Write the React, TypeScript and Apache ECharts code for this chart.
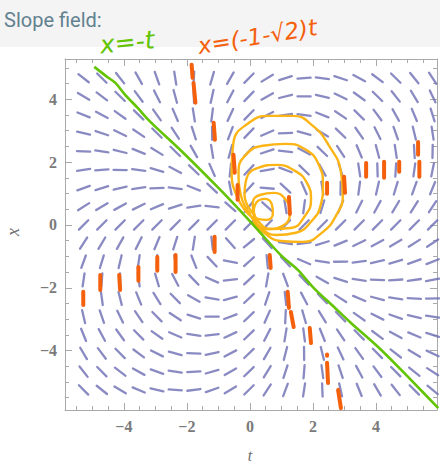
import { useEffect, useRef } from 'react';
import * as echarts from 'echarts';

// Slope field grid (sample points)
const T_GRID = [-5.28, -4.7, -4.12, -3.53, -2.95, -2.37, -1.78, -1.2, -0.62, -0.03, 0.55, 1.13, 1.72, 2.3, 2.88, 3.47, 4.05, 4.63, 5.22, 5.8];
const X_GRID = [4.67, 4.09, 3.5, 2.92, 2.34, 1.75, 1.17, 0.58, 0.0, -0.58, -1.17, -1.75, -2.34, -2.92, -3.5, -4.09, -4.67, -5.25];
// ODE: dx/dt = (x^2 - 2tx - t^2) / (x^2 + 2tx - t^2); coefficients of [x^2, t*x, t^2]
const ODE_NUM = [1, -2, -1];
const ODE_DEN = [1, 2, -1];

const T_RANGE = [-5.87, 5.94];
const X_RANGE = [-5.89, 5.28];
const T_MAJOR = [-4, -2, 0, 2, 4];
const T_MINOR = [-5.5, -5, -4.5, -3.5, -3, -2.5, -1.5, -1, -0.5, 0.5, 1, 1.5, 2.5, 3, 3.5, 4.5, 5, 5.5];
const X_MAJOR = [-4, -2, 0, 2, 4];
const X_MINOR = [-5.5, -5, -4.5, -3.5, -3, -2.5, -1.5, -1, -0.5, 0.5, 1, 1.5, 2.5, 3, 3.5, 4.5, 5];

// Hand-drawn green line x = -t
const GREEN_CURVE = [
  [-4.94, 5.03], [-4.53, 4.71], [-4.27, 4.52], [-3.96, 4.14], [-3.57, 3.73], [-3.16, 3.28],
  [-2.11, 2.29], [-1.03, 1.21], [-0.39, 0.54], [0.25, -0.16], [0.98, -0.96], [1.52, -1.43],
  [2.03, -2.01], [2.67, -2.61], [3.21, -3.12], [4.17, -3.98], [5.12, -4.94], [5.98, -5.83],
];

// Hand-drawn yellow spiral loops
const LOOP_1 = [
  [0.09, 0.22], [-0.36, 0.8], [-0.58, 1.75], [-0.52, 2.64], [-0.07, 3.22], [0.6, 3.47], [1.36, 3.47],
  [2.0, 3.15], [2.51, 2.52], [2.89, 1.69], [2.95, 0.92], [2.73, 0.29], [2.32, -0.22], [1.68, -0.54],
  [0.98, -0.51], [0.41, -0.22], [0.09, 0.1],
];
const LOOP_2 = [
  [0.03, 0.32], [-0.29, 0.96], [-0.36, 1.69], [-0.13, 2.23], [0.41, 2.52], [1.14, 2.58], [1.78, 2.39],
  [2.19, 1.91], [2.32, 1.27], [2.25, 0.64], [1.94, 0.1], [1.46, -0.25], [0.82, -0.32], [0.28, -0.03], [0.05, 0.25],
];
const LOOP_3 = [
  [0.09, 0.38], [-0.17, 0.96], [-0.1, 1.5], [0.28, 1.82], [0.85, 1.91], [1.43, 1.72], [1.81, 1.34],
  [1.94, 0.8], [1.75, 0.29], [1.3, -0.1], [0.66, -0.13], [0.22, 0.16], [0.1, 0.4],
];
const LOOP_4 = [
  [0.12, 0.32], [0.09, 0.7], [0.34, 0.96], [0.76, 1.02], [1.14, 0.8], [1.27, 0.38], [1.04, -0.03],
  [0.54, -0.13], [0.18, 0.1], [0.12, 0.34],
];
const LOOP_5 = [
  [0.12, 0.41], [0.22, 0.73], [0.47, 0.83], [0.69, 0.67], [0.73, 0.38], [0.54, 0.16], [0.25, 0.19], [0.13, 0.4],
];
const SPIRAL_LOOPS = [LOOP_1, LOOP_2, LOOP_3, LOOP_4, LOOP_5];

// Hand-drawn orange strokes where slopes are vertical: [t1, x1, t2, x2]
const ORANGE_MARKS = [
  [-1.85, 5.1, -1.82, 4.68], [-1.79, 4.52, -1.73, 3.89], [-1.15, 3.25, -1.11, 2.71], [-0.52, 2.23, -0.48, 1.66],
  [-0.39, 1.27, -0.39, 0.8], [1.24, 0.89, 1.27, 0.35], [2.45, 1.34, 2.45, 0.99], [2.99, 1.53, 3.02, 1.02],
  [3.69, 1.97, 3.69, 1.53], [4.26, 2.01, 4.26, 1.5], [4.74, 2.01, 4.74, 1.69], [5.34, 2.64, 5.34, 2.23],
  [5.38, 2.01, 5.38, 1.53], [-5.29, -2.13, -5.29, -2.55], [-4.75, -1.59, -4.75, -2.07], [-4.15, -1.59, -4.12, -2.07],
  [-3.54, -1.34, -3.54, -1.78], [-2.94, -1.02, -2.94, -1.46], [-2.36, -0.96, -2.36, -1.5], [-1.12, -0.38, -1.12, -0.86],
  [0.63, -0.96, 0.66, -1.37], [1.2, -2.13, 1.24, -2.64], [1.3, -2.77, 1.39, -3.25], [1.9, -3.28, 1.94, -3.76],
  [2.45, -4.12, 2.45, -4.16], [2.45, -4.39, 2.48, -5.03], [2.8, -5.25, 2.89, -5.83],
];

const TITLE = 'Slope field:';
const NOTE_GREEN = 'x=-t';
const NOTE_ORANGE = 'x=(-1-√2)t';
const T_NAME = 't';
const X_NAME = 'x';

const FRAME = '#a9a9a9';
const LABEL_COLOR = '#7a7a7a';
const fmt = (v: number) => (v < 0 ? '\u2212' + Math.abs(v) : String(v));

function xAxisCfg(pos: 'bottom' | 'top', ticks: number[], len: number, line: boolean, labels: boolean) {
  return {
    type: 'value', position: pos, min: T_RANGE[0], max: T_RANGE[1],
    axisLine: { show: line, onZero: false, lineStyle: { color: FRAME, width: 1 } },
    axisTick: { show: true, inside: true, length: len, customValues: ticks, lineStyle: { color: FRAME, width: 1 } },
    axisLabel: { show: labels, customValues: ticks, formatter: fmt, margin: 8, color: LABEL_COLOR, fontSize: 16, fontWeight: 'bold', fontFamily: 'Liberation Serif' },
    splitLine: { show: false },
  };
}
function yAxisCfg(pos: 'left' | 'right', ticks: number[], len: number, line: boolean, labels: boolean) {
  return {
    type: 'value', position: pos, min: X_RANGE[0], max: X_RANGE[1],
    axisLine: { show: line, onZero: false, lineStyle: { color: FRAME, width: 1 } },
    axisTick: { show: true, inside: true, length: len, customValues: ticks, lineStyle: { color: FRAME, width: 1 } },
    axisLabel: { show: labels, customValues: ticks, formatter: fmt, margin: 8, color: LABEL_COLOR, fontSize: 16, fontWeight: 'bold', fontFamily: 'Liberation Serif' },
    splitLine: { show: false },
  };
}

export default function App() {
  const ref = useRef<HTMLDivElement>(null);
  useEffect(() => {
    if (!ref.current) return;
    const chart = echarts.init(ref.current, null, { renderer: 'svg' });
    const gridPoints: number[][] = [];
    T_GRID.forEach((t) => X_GRID.forEach((x) => gridPoints.push([t, x])));

    const series: any[] = [
      {
        type: 'custom', name: 'slopes', data: gridPoints, xAxisIndex: 0, yAxisIndex: 0, clip: false, z: 2,
        encode: { x: 0, y: 1 },
        renderItem: (_p: any, api: any) => {
          const t = api.value(0) as number;
          const x = api.value(1) as number;
          const c = api.coord([t, x]);
          const s = api.size([1, 1]) as number[];
          const num = ODE_NUM[0] * x * x + ODE_NUM[1] * t * x + ODE_NUM[2] * t * t;
          const den = ODE_DEN[0] * x * x + ODE_DEN[1] * t * x + ODE_DEN[2] * t * t;
          let dx = den * s[0];
          let dy = -num * s[1];
          const L = Math.hypot(dx, dy) || 1;
          const h = 6.6;
          dx = (dx / L) * h;
          dy = (dy / L) * h;
          return {
            type: 'line',
            shape: { x1: c[0] - dx, y1: c[1] - dy, x2: c[0] + dx, y2: c[1] + dy },
            style: { stroke: '#6d6db4', lineWidth: 2.3, lineCap: 'round', opacity: 0.8 },
          };
        },
      },
      ...SPIRAL_LOOPS.map((loop, i) => ({
        type: 'line', name: 'loop' + (i + 1), data: loop, xAxisIndex: 0, yAxisIndex: 0, smooth: 0.5,
        showSymbol: false, symbol: 'none', z: 3, clip: false,
        lineStyle: { color: '#fcb514', width: 2.4 },
      })),
      {
        type: 'line', name: 'x=-t', data: GREEN_CURVE, xAxisIndex: 0, yAxisIndex: 0, smooth: 0.3,
        showSymbol: false, symbol: 'none', z: 4, clip: true,
        lineStyle: { color: '#62c402', width: 2.6 },
      },
      {
        type: 'custom', name: 'vertical', data: ORANGE_MARKS, xAxisIndex: 0, yAxisIndex: 0, clip: false, z: 5,
        encode: { x: [0, 2], y: [1, 3] },
        renderItem: (_p: any, api: any) => {
          const a = api.coord([api.value(0), api.value(1)]);
          const b = api.coord([api.value(2), api.value(3)]);
          return {
            type: 'line',
            shape: { x1: a[0], y1: a[1], x2: b[0], y2: b[1] },
            style: { stroke: '#f4600c', lineWidth: 4, lineCap: 'round' },
          };
        },
      },
    ];

    chart.setOption({
      animation: false,
      backgroundColor: '#ffffff',
      grid: { left: 65, right: 3, top: 59, bottom: 56, containLabel: false },
      xAxis: [
        xAxisCfg('bottom', T_MAJOR, 7, true, true),
        xAxisCfg('bottom', T_MINOR, 4, false, false),
        xAxisCfg('top', T_MAJOR, 7, true, false),
        xAxisCfg('top', T_MINOR, 4, false, false),
      ],
      yAxis: [
        yAxisCfg('left', X_MAJOR, 7, true, true),
        yAxisCfg('left', X_MINOR, 4, false, false),
        yAxisCfg('right', X_MAJOR, 7, true, false),
        yAxisCfg('right', X_MINOR, 4, false, false),
      ],
      series,
      graphic: [
        { type: 'rect', left: 0, top: 0, z: -10, shape: { width: 440, height: 47 }, style: { fill: '#f4f4f4' } },
        {
          type: 'text', x: 4, y: 20, z: 10,
          style: { text: TITLE, fontSize: 20, fontFamily: 'Roboto', fill: '#62818f', align: 'left', verticalAlign: 'middle' },
        },
        {
          type: 'text', x: 100, y: 45, rotation: 0.1, z: 10,
          style: { text: NOTE_GREEN, fontSize: 25, fontFamily: 'DejaVu Sans', fontStyle: 'italic', fill: '#62c402', align: 'left', verticalAlign: 'middle' },
        },
        {
          type: 'text', x: 198, y: 46, rotation: 0.16, z: 10,
          style: { text: NOTE_ORANGE, fontSize: 23, fontFamily: 'DejaVu Sans', fontStyle: 'italic', fill: '#f4600c', align: 'left', verticalAlign: 'middle' },
        },
        {
          type: 'text', x: 250, y: 455, z: 10,
          style: { text: T_NAME, fontSize: 16, fontFamily: 'Liberation Serif', fontStyle: 'italic', fill: '#6f6f6f', align: 'center', verticalAlign: 'middle' },
        },
        {
          type: 'text', x: 13, y: 232, rotation: Math.PI / 2, z: 10,
          style: { text: X_NAME, fontSize: 18, fontFamily: 'Liberation Serif', fontStyle: 'italic', fill: '#6f6f6f', align: 'center', verticalAlign: 'middle' },
        },
      ],
    });
    return () => chart.dispose();
  }, []);
  return <div ref={ref} style={{ position: 'fixed', left: 0, top: 0, width: 440, height: 466, background: '#fff' }} />;
}
